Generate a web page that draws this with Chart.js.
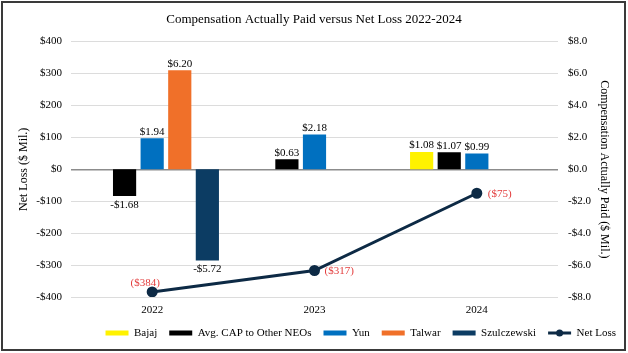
<!DOCTYPE html>
<html>
<head>
<meta charset="utf-8">
<script src="https://cdn.jsdelivr.net/npm/chart.js@4"></script>
<style>
  html, body { margin: 0; padding: 0; background: #fff; }
  #wrap { position: relative; width: 628px; height: 353px; }
  #frame {
    position: absolute; left: 1px; top: 1px; width: 625px; height: 350px;
    border: 2px solid #3a3a3a; box-sizing: border-box; pointer-events: none;
  }
  canvas { position: absolute; left: 0; top: 0; }
</style>
</head>
<body>
<div id="wrap">
  <canvas id="capChart" width="628" height="353"></canvas>
  <div id="frame"></div>
</div>
<script>
const years = ["2022", "2023", "2024"];
const bajaj = [null, null, 1.08];
const avgOtherNeos = [-1.68, 0.63, 1.07];
const yun = [1.94, 2.18, 0.99];
const talwar = [6.2, null, null];
const szulczewski = [-5.72, null, null];
const netLoss = [-384, -317, -75];

// where each net loss label sits relative to its point
const netLossLabelPos = [
  { dx: -7, dy: -9, align: "center" },
  { dx: 10, dy: 1, align: "left" },
  { dx: 11, dy: 1, align: "left" },
];

const serif = "Liberation Serif";
Chart.defaults.font.family = serif;
Chart.defaults.color = "#000";

function money(v) {
  return v < 0 ? "-$" + Math.abs(v).toFixed(2) : "$" + v.toFixed(2);
}

const valueLabels = {
  id: "valueLabels",
  afterDatasetsDraw(chart) {
    const ctx = chart.ctx;
    ctx.save();
    ctx.font = "11px '" + serif + "'";
    chart.data.datasets.forEach((ds, i) => {
      const meta = chart.getDatasetMeta(i);
      if (ds.type === "line") {
        ctx.fillStyle = "#e33d3d";
        ctx.textBaseline = "middle";
        meta.data.forEach((pt, j) => {
          const p = netLossLabelPos[j];
          ctx.textAlign = p.align;
          ctx.fillText("($" + Math.abs(ds.data[j]) + ")", pt.x + p.dx, pt.y + p.dy);
        });
        return;
      }
      ctx.fillStyle = "#000";
      ctx.textAlign = "center";
      meta.data.forEach((bar, j) => {
        const v = ds.data[j];
        if (v === null) return;
        if (v >= 0) {
          ctx.textBaseline = "bottom";
          ctx.fillText(money(v), bar.x, bar.y - 1);
        } else {
          ctx.textBaseline = "top";
          ctx.fillText(money(v), bar.x, bar.y + 3);
        }
      });
    });
    ctx.restore();
  },
  afterDraw(chart) {
    // line-with-marker swatch for the Net Loss legend item
    const legend = chart.legend;
    const ctx = chart.ctx;
    legend.legendItems.forEach((item, i) => {
      const ds = chart.data.datasets[item.datasetIndex];
      if (ds.type !== "line") return;
      const box = legend.legendHitBoxes[i];
      const cy = box.top + box.height / 2;
      const w = legend.options.labels.boxWidth;
      ctx.save();
      ctx.strokeStyle = ds.borderColor;
      ctx.fillStyle = ds.borderColor;
      ctx.lineWidth = 3;
      ctx.beginPath();
      ctx.moveTo(box.left, cy);
      ctx.lineTo(box.left + w, cy);
      ctx.stroke();
      ctx.beginPath();
      ctx.arc(box.left + w / 2, cy, 3.5, 0, Math.PI * 2);
      ctx.fill();
      ctx.restore();
    });
  },
};

const ctx = document.getElementById("capChart").getContext("2d");

window.capChart = new Chart(ctx, {
  type: "bar",
  data: {
    labels: years,
    datasets: [
      { label: "Bajaj", data: bajaj, backgroundColor: "#fff200", yAxisID: "y1" },
      { label: "Avg. CAP to Other NEOs", data: avgOtherNeos, backgroundColor: "#000000", yAxisID: "y1" },
      { label: "Yun", data: yun, backgroundColor: "#0070c0", yAxisID: "y1" },
      { label: "Talwar", data: talwar, backgroundColor: "#f07029", yAxisID: "y1" },
      { label: "Szulczewski", data: szulczewski, backgroundColor: "#0c3c63", yAxisID: "y1" },
      {
        type: "line",
        label: "Net Loss",
        data: netLoss,
        yAxisID: "y",
        borderColor: "#0d2a45",
        backgroundColor: "#0d2a45",
        borderWidth: 3,
        pointRadius: 4,
        pointBackgroundColor: "#0d2a45",
        tension: 0,
      },
    ],
  },
  options: {
    responsive: false,
    animation: false,
    categoryPercentage: 0.85,
    barPercentage: 0.84,
    layout: { padding: { left: 0, right: 0, top: 0, bottom: 4.5 } },
    plugins: {
      title: {
        display: true,
        text: "Compensation Actually Paid versus Net Loss 2022-2024",
        color: "#000",
        font: { family: serif, size: 13, weight: "normal" },
        padding: { top: 12, bottom: 14 },
      },
      legend: {
        position: "bottom",
        align: "end",
        labels: {
          color: "#000",
          font: { family: serif, size: 11 },
          boxWidth: 23,
          boxHeight: 5,
          padding: 12,
          generateLabels(chart) {
            const items = Chart.defaults.plugins.legend.labels.generateLabels(chart);
            items.forEach((it) => {
              it.lineWidth = 0;
              if (chart.data.datasets[it.datasetIndex].type === "line") {
                it.fillStyle = "rgba(0,0,0,0)";
                it.strokeStyle = "rgba(0,0,0,0)";
              }
            });
            return items;
          },
        },
      },
      tooltip: { enabled: false },
    },
    scales: {
      x: {
        grid: { display: false, drawTicks: false },
        border: { display: false },
        ticks: { color: "#000", padding: 7, font: { family: serif, size: 11 } },
        afterFit: (scale) => { scale.height = 18.5; },
      },
      y: {
        position: "left",
        min: -400,
        max: 400,
        ticks: {
          stepSize: 100,
          color: "#000",
          padding: 9,
          font: { family: serif, size: 11 },
          callback: (v) => (v < 0 ? "-$" + Math.abs(v) : "$" + v),
        },
        grid: {
          drawTicks: false,
          color: (c) => (c.tick.value === 0 ? "#8c8c8c" : "#dcdcdc"),
          lineWidth: (c) => (c.tick.value === 0 ? 1.5 : 1),
        },
        border: { display: false },
        title: {
          display: true,
          text: "Net Loss ($ Mil.)",
          color: "#000",
          font: { family: serif, size: 12 },
          padding: { top: 17 },
        },
        afterFit: (scale) => { scale.width = 71; },
      },
      y1: {
        position: "right",
        min: -8,
        max: 8,
        ticks: {
          stepSize: 2,
          color: "#000",
          padding: 10,
          font: { family: serif, size: 11 },
          callback: (v) => (v < 0 ? "-$" + Math.abs(v).toFixed(1) : "$" + v.toFixed(1)),
        },
        grid: { display: false, drawTicks: false },
        border: { display: false },
        title: {
          display: true,
          text: "Compensation Actually Paid ($ Mil.)",
          color: "#000",
          font: { family: serif, size: 12 },
          padding: { top: 17 },
        },
        afterFit: (scale) => { scale.width = 70; },
      },
    },
  },
  plugins: [valueLabels],
});
</script>
</body>
</html>
